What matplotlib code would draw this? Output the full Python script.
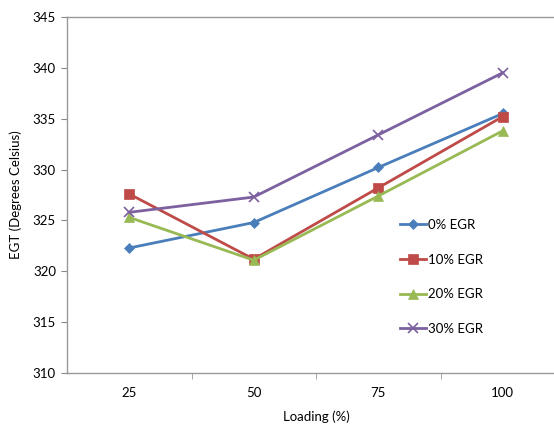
import matplotlib
matplotlib.use("Agg")
import matplotlib.pyplot as plt

plt.rcParams['font.family'] = ['Lato', 'DejaVu Sans']

# --- data ---
loading = ['25', '50', '75', '100']
egr_0 = [322.3, 324.8, 330.2, 335.5]
egr_10 = [327.6, 321.2, 328.2, 335.2]
egr_20 = [325.3, 321.1, 327.4, 333.8]
egr_30 = [325.8, 327.3, 333.4, 339.5]

series = [
    ('0% EGR', egr_0, '#4A7EBB', 'D', 5),
    ('10% EGR', egr_10, '#BE4B48', 's', 6.5),
    ('20% EGR', egr_20, '#98B954', '^', 7),
    ('30% EGR', egr_30, '#7D60A0', 'x', 7),
]

fig = plt.figure(figsize=(5.54, 4.24), dpi=100)
# plot area runs a little past the right edge, as in the original
ax = fig.add_axes([67 / 554, 1 - 373.3 / 424, (565 - 67) / 554, (373.3 - 16.7) / 424])

x = range(len(loading))
for name, vals, col, mk, ms in series:
    ax.plot(x, vals, color=col, marker=mk, markersize=ms, linewidth=2,
            markeredgewidth=1.2 if mk == 'x' else 0.5, label=name)

ax.set_xlim(-0.5, len(loading) - 0.5)
ax.set_ylim(310, 345)
ax.set_yticks(range(310, 346, 5))
ax.set_xticks(x)
ax.set_xticklabels(loading)
ax.set_xticks([i + 0.5 for i in range(len(loading) - 1)], minor=True)
ax.tick_params(axis='x', which='major', length=0, pad=10, labelsize=9.5)
ax.tick_params(axis='x', which='minor', length=4, color='#999999')
ax.tick_params(axis='y', length=4, color='#888888', labelsize=9.5, pad=4)

for side, s in ax.spines.items():
    s.set_color('#999999')
    s.set_linewidth(1)
ax.spines['right'].set_visible(False)

ax.set_xlabel('Loading (%)', fontsize=9.5, labelpad=8)
ax.set_ylabel('EGT (Degrees Celsius)', fontsize=9.5, labelpad=8)

ax.legend(loc='center left', bbox_to_anchor=(0.645, 0.27), frameon=False,
          fontsize=9.5, labelspacing=1.72, handlelength=2.0, handletextpad=0.1)

fig.savefig('out.png', dpi=100)
